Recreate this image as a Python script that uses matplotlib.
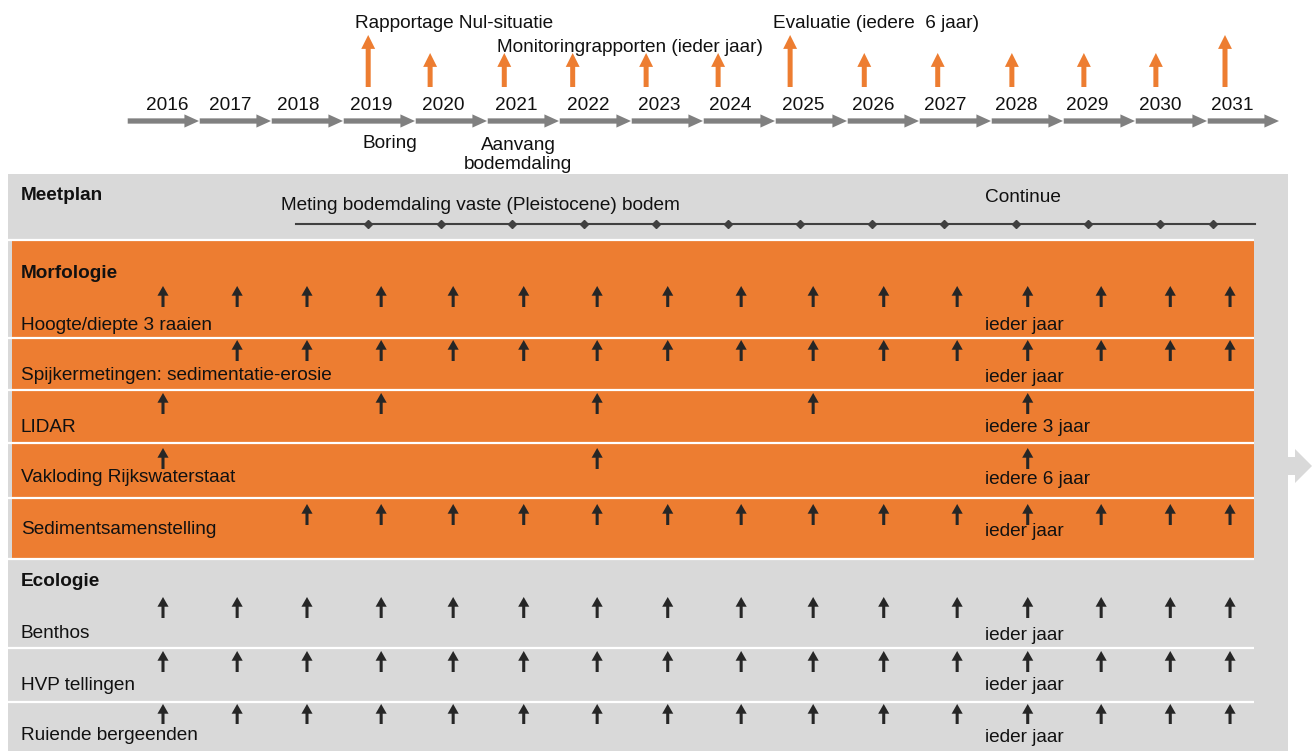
import matplotlib.pyplot as plt
from matplotlib.patches import Rectangle, Polygon

plt.rcParams['font.family'] = ['Liberation Sans', 'DejaVu Sans']

# timeline
years = list(range(2016, 2032))
# where each year label sits (in years)
year_label_pos = [2016.06, 2016.93, 2017.88, 2018.89, 2019.89, 2020.90, 2021.90, 2022.89,
                  2023.88, 2024.89, 2025.86, 2026.86, 2027.85, 2028.83, 2029.85, 2030.85]
# column positions of the measurement arrows per year
column_pos = [2016.0, 2017.03, 2018.0, 2019.03, 2020.03, 2021.01, 2022.03, 2023.01,
              2024.03, 2025.03, 2026.01, 2027.03, 2028.01, 2029.03, 2029.99, 2030.82]

report_years = list(range(2019, 2032))
report_pos = [2018.85, 2019.71, 2020.74, 2021.69, 2022.71, 2023.71, 2024.71,
              2025.74, 2026.76, 2027.79, 2028.79, 2029.79, 2030.75]
report_tall = [2019, 2025, 2031]
meetplan_marks = [2018.85, 2019.86, 2020.85, 2021.85, 2022.85, 2023.85, 2024.85,
                  2025.85, 2026.85, 2027.85, 2028.85, 2029.85, 2030.58]
meetplan_span = (2017.85, 2031.17)

# measurement rows: (label, years, frequency, tip y, base y, label y)
rows = [
    ('Hoogte/diepte 3 raaien', list(range(2016, 2032)), 'ieder jaar', 286, 307, 323),
    ('Spijkermetingen: sedimentatie-erosie', list(range(2017, 2032)), 'ieder jaar', 340, 361, 374),
    ('LIDAR', [2016, 2019, 2022, 2025, 2028], 'iedere 3 jaar', 393, 414, 425),
    ('Vakloding Rijkswaterstaat', [2016, 2022, 2028], 'iedere 6 jaar', 448, 469, 476),
    ('Sedimentsamenstelling', list(range(2018, 2032)), 'ieder jaar', 504, 525, 528),
    ('Benthos', list(range(2016, 2032)), 'ieder jaar', 597, 618, 632),
    ('HVP tellingen', list(range(2016, 2032)), 'ieder jaar', 651, 672, 683),
    ('Ruiende bergeenden', list(range(2016, 2032)), 'ieder jaar', 704, 724, 734),
]

ORANGE = '#ED7D31'
GREY = '#D9D9D9'
ARROW_GREY = '#808080'
DARK = '#262626'
TXT = '#111111'
FS = 13.7
DY = 2  # small nudge so text sits like the original

W, H = 1315, 751
fig = plt.figure(figsize=(W / 100, H / 100), dpi=100)

# background axes in pixel units for the panels and labels
bg = fig.add_axes([0, 0, 1, 1])
bg.set_xlim(0, W)
bg.set_ylim(H, 0)
bg.axis('off')

bg.add_patch(Rectangle((8, 174), 1280, 600, color=GREY, lw=0))
bg.add_patch(Polygon([(1287, 457), (1295, 457), (1295, 449), (1312, 466),
                      (1295, 483), (1295, 475), (1287, 475)], closed=True, color=GREY, lw=0))
bg.add_patch(Rectangle((12, 241), 1242, 318, color=ORANGE, lw=0))
for ysep in [240, 338, 390, 443, 498, 559, 648, 702]:
    bg.plot([8, 1254], [ysep, ysep], color='white', lw=1.6, solid_capstyle='butt')


def label(x, y, s, **kw):
    bg.text(x, y + DY, s, fontsize=FS, va='center', color=TXT, **kw)


label(21, 193, 'Meetplan', fontweight='bold')
label(21, 271, 'Morfologie', fontweight='bold')
label(21, 579, 'Ecologie', fontweight='bold')
label(281, 204, 'Meting bodemdaling vaste (Pleistocene) bodem')
label(985, 195, 'Continue')

for name, yrs, freq, tip, base, ly in rows:
    label(21, ly, name)
    label(985, ly + 1, freq)

label(355, 21, 'Rapportage Nul-situatie')
label(497, 46, 'Monitoringrapporten (ieder jaar)')
label(773, 21, 'Evaluatie (iedere  6 jaar)')
label(390, 141, 'Boring', ha='center')
label(518, 153, 'Aanvang\nbodemdaling', ha='center', linespacing=1.1)

# year axes: x in years, y in pixels
PX_PER_YEAR = 72.0
X2016 = 163.0
ax = fig.add_axes([0, 0, 1, 1])
ax.set_xlim(2016 - X2016 / PX_PER_YEAR, 2016 + (W - X2016) / PX_PER_YEAR)
ax.set_ylim(H, 0)
ax.patch.set_visible(False)
ax.axis('off')

# grey timeline arrows with year labels
for yr, lx in zip(years, year_label_pos):
    ax.annotate('', xy=(yr + 0.5, 121), xytext=(yr - 0.49, 121),
                arrowprops=dict(arrowstyle='simple,head_length=1.05,head_width=0.95,tail_width=0.38',
                                color=ARROW_GREY, lw=0, shrinkA=0, shrinkB=0))
    ax.text(lx, 104 + DY, str(yr), fontsize=FS, ha='center', va='center', color=TXT)

# orange reporting arrows
for yr, px in zip(report_years, report_pos):
    tip = 35 if yr in report_tall else 53
    ax.annotate('', xy=(px, tip), xytext=(px, 87),
                arrowprops=dict(arrowstyle='simple,head_length=1.0,head_width=1.0,tail_width=0.36',
                                color=ORANGE, lw=0, shrinkA=0, shrinkB=0))

# continuous subsidence measurement line
ax.plot(meetplan_span, [224, 224], color='#404040', lw=1.5)
ax.plot(meetplan_marks, [224] * len(meetplan_marks),
        ls='none', marker='D', ms=4.5, color='#404040')

# measurement arrows
for name, yrs, freq, tip, base, ly in rows:
    for yr in yrs:
        cx = column_pos[years.index(yr)]
        ax.annotate('', xy=(cx, tip), xytext=(cx, base),
                    arrowprops=dict(arrowstyle='simple,head_length=0.7,head_width=0.8,tail_width=0.22',
                                    color=DARK, lw=0, shrinkA=0, shrinkB=0))

fig.savefig('out.png', dpi=100)
